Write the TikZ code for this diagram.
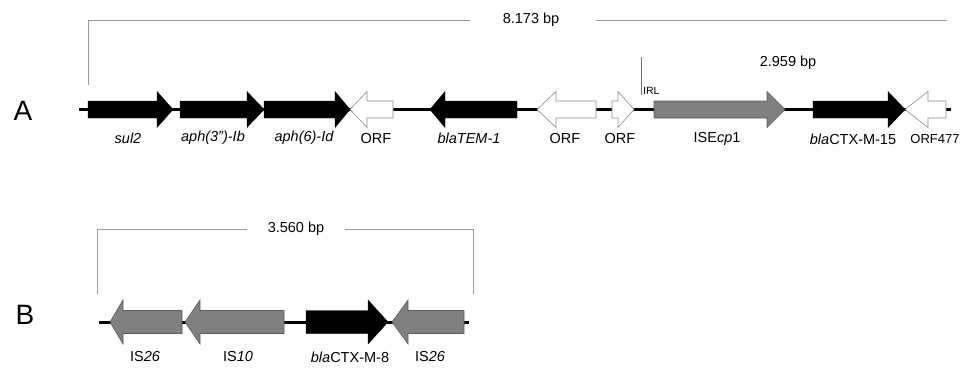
\documentclass[tikz,border=0pt]{standalone}
\usepackage{fontspec}
\setmainfont{Liberation Sans}
\begin{document}
\begin{tikzpicture}[x=1pt,y=-1pt,
  blk/.style={fill=black,draw=black,line width=0.4pt},
  wht/.style={fill=white,draw=black!45,line width=0.6pt},
  gry/.style={fill=black!50,draw=black!65,line width=0.6pt},
  backbone/.style={line width=3pt,black},
  brk/.style={draw=black!40,line width=0.8pt},
  lab/.style={font=\fontsize{14.5}{16}\selectfont,inner sep=0pt,anchor=center},
  big/.style={font=\fontsize{28}{30}\selectfont,inner sep=0pt}]
\useasboundingbox (0,0) rectangle (964,367);
\newcommand\genearrow[7]{%
  \path[#7] (#4,#1-#2) -- (#5,#1-#2) -- (#5,#1-#3) -- (#6,#1) -- (#5,#1+#3) -- (#5,#1+#2) -- (#4,#1+#2) -- cycle;}
% ---------- A ----------
\node[big] (lA) at (23,111) {A};
\coordinate (a0) at (79,109.5);
\coordinate (a1) at (951,109.5);
\draw[backbone] (a0) -- (a1);
\genearrow{109.5}{8.5}{18}{88}{157}{173}{blk}
\genearrow{109.5}{8.5}{18}{180}{247}{264}{blk}
\genearrow{109.5}{8.5}{18}{264}{335}{350}{blk}
\genearrow{109.5}{8.5}{18}{393}{367}{350}{wht}
\genearrow{109.5}{8.5}{18}{517}{445}{430}{blk}
\genearrow{109.5}{8.5}{18}{596}{556}{537}{wht}
\genearrow{109.5}{8.5}{18}{612}{618}{634}{wht}
\genearrow{109.5}{8.5}{18}{654}{767}{785}{gry}
\genearrow{109.5}{8.5}{18}{813}{888}{905}{blk}
\genearrow{109.5}{8.5}{18}{946}{928}{905}{wht}
% bracket A
\node[lab] (bpA) at (531,20) {8.173 bp};
\coordinate (bA1) at (88,85);
\coordinate (bA2) at (88,20);
\coordinate (bA3) at (947,20);
\draw[brk] (bA1) -- (bA2) -- (470,20);
\draw[brk] (596,20) -- (bA3);
\node[lab] (bp2) at (788,63) {2.959 bp};
\coordinate (irl1) at (641,57);
\coordinate (irl2) at (641,95);
\draw[draw=black!55,line width=0.7pt] (irl1) -- (irl2);
\node[font=\fontsize{10.5}{11}\selectfont,inner sep=0pt,anchor=base west] (irl) at (643,94) {IRL};
% labels A
\node[lab] (t1) at (128,138) {\itshape sul2};
\node[lab] (t2) at (213,138) {\itshape aph(3'')-Ib};
\node[lab] (t3) at (304,138) {\itshape aph(6)-Id};
\node[lab] (t4) at (376,139) {ORF};
\node[lab] (t5) at (469,138) {\itshape blaTEM-1};
\node[lab] (t6) at (565,139) {ORF};
\node[lab] (t7) at (620,139) {ORF};
\node[lab] (t8) at (717,139) {ISE\textit{cp}1};
\node[lab] (t9) at (853,139) {\textit{bla}CTX-M-15};
\node[lab,font=\fontsize{13}{14}\selectfont] (t10) at (935,139) {ORF477};
% ---------- B ----------
\node[big] (lB) at (25,315) {B};
\coordinate (b0) at (99,322);
\coordinate (b1) at (469,322);
\draw[backbone] (b0) -- (b1);
\genearrow{322}{11.5}{22}{182}{123}{110}{gry}
\genearrow{322}{11.5}{22}{284}{200}{185}{gry}
\genearrow{322}{11.5}{22}{306}{368}{388}{blk}
\genearrow{322}{11.5}{22}{464}{408}{392}{gry}
% bracket B
\node[lab] (bpB) at (296,229) {3.560 bp};
\coordinate (bB1) at (97,294);
\coordinate (bB2) at (97,229);
\coordinate (bB3) at (473,229);
\coordinate (bB4) at (473,294);
\draw[brk] (bB1) -- (bB2) -- (247,229);
\draw[brk] (345,229) -- (bB3) -- (bB4);
% labels B
\node[lab] (s1) at (145,357) {IS\textit{26}};
\node[lab] (s2) at (238,357) {IS\textit{10}};
\node[lab] (s3) at (350,357) {\textit{bla}CTX-M-8};
\node[lab] (s4) at (430,357) {IS\textit{26}};
\end{tikzpicture}
\end{document}
